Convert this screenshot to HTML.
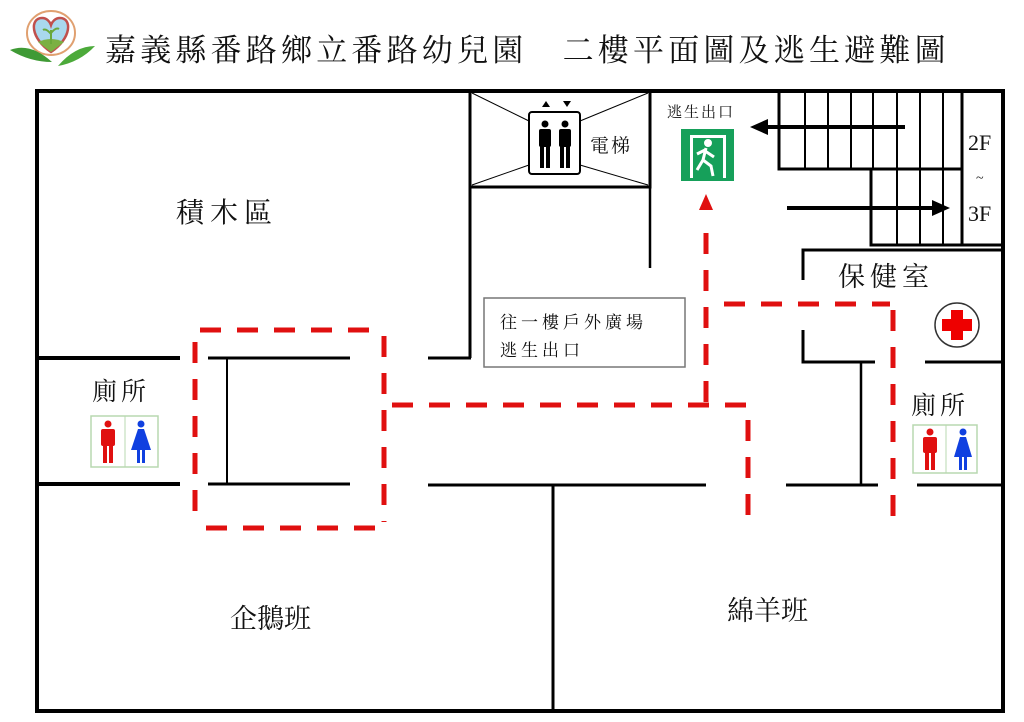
<!DOCTYPE html>
<html><head><meta charset="utf-8"><style>
html,body{margin:0;padding:0;background:#fff;width:1024px;height:722px;overflow:hidden}
svg{display:block}
text{font-family:"Liberation Serif","Noto Serif CJK SC","Noto Sans CJK TC",serif;fill:#111}
</style></head><body>
<svg width="1024" height="722" viewBox="0 0 1024 722" xmlns="http://www.w3.org/2000/svg">
<!-- logo -->
<ellipse cx="51" cy="33" rx="24" ry="22" fill="none" stroke="#e0a070" stroke-width="2"/>
<path d="M51 52 C30 38 30 18 42 18 C47 18 50 22 51 25 C52 22 55 18 60 18 C72 18 72 38 51 52Z" fill="#a9d8ee" stroke="#c0504d" stroke-width="2.5"/>
<path d="M38 42 Q51 36 64 42 L51 52Z" fill="#7bb043"/>
<path d="M51 44 L51 30 M51 34 Q46 28 43 30 M51 33 Q56 27 59 29" stroke="#6aa83a" stroke-width="2" fill="none"/>
<path d="M10 50 Q30 42 52 62 Q30 62 10 50Z" fill="#3f9a35"/>
<path d="M95 46 Q75 46 58 66 Q80 62 95 46Z" fill="#4caa3a"/>
<text x="105" y="61" font-size="31" letter-spacing="4.2">嘉義縣番路鄉立番路幼兒園　二樓平面圖及逃生避難圖</text>

<g stroke="#000" fill="none">
<rect x="37" y="91" width="966" height="620" stroke-width="4"/>
<line x1="470" y1="91" x2="470" y2="358" stroke-width="3"/>
<line x1="37" y1="358" x2="180" y2="358" stroke-width="4"/>
<line x1="208" y1="358" x2="350" y2="358" stroke-width="3"/>
<line x1="428" y1="358" x2="471" y2="358" stroke-width="3"/>
<line x1="227" y1="358" x2="227" y2="484" stroke-width="2"/>
<line x1="37" y1="484" x2="180" y2="484" stroke-width="4"/>
<line x1="208" y1="484" x2="350" y2="484" stroke-width="3"/>
<line x1="428" y1="485" x2="706" y2="485" stroke-width="3"/>
<line x1="786" y1="485" x2="878" y2="485" stroke-width="3"/>
<line x1="917" y1="485" x2="1003" y2="485" stroke-width="3"/>
<line x1="553" y1="485" x2="553" y2="711" stroke-width="3"/>
<rect x="470" y="91" width="180" height="96" stroke-width="3"/>
<line x1="650" y1="187" x2="650" y2="268" stroke-width="2.5"/>
<line x1="472" y1="93" x2="529" y2="121" stroke-width="1"/>
<line x1="648" y1="93" x2="580" y2="121" stroke-width="1"/>
<line x1="472" y1="185" x2="529" y2="165" stroke-width="1"/>
<line x1="648" y1="185" x2="580" y2="165" stroke-width="1"/>
<rect x="529" y="112" width="51" height="62" rx="3" stroke-width="2"/>
<path d="M779 91 V169 H962 M871 169 V245 H962 V91" stroke-width="3"/>
<path d="M805 91V169 M828 91V169 M851 91V169 M873 91V169 M897 91V245 M920 91V245 M943 91V245" stroke-width="2"/>
<line x1="962" y1="245" x2="1003" y2="245" stroke-width="3"/>
<path d="M803 280 V250 H1003" stroke-width="3"/>
<path d="M803 330 V362 H875 M925 362 H1003" stroke-width="3"/>
<line x1="861" y1="362" x2="861" y2="485" stroke-width="2.5"/>
</g>
<line x1="905" y1="127" x2="765" y2="127" stroke="#000" stroke-width="4"/>
<polygon points="750,127 768,119 768,135" fill="#000"/>
<line x1="787" y1="208" x2="935" y2="208" stroke="#000" stroke-width="4"/>
<polygon points="950,208 932,200 932,216" fill="#000"/>
<text x="968" y="150" font-size="22">2F</text>
<text x="976" y="182" font-size="14">~</text>
<text x="968" y="221" font-size="22">3F</text>

<polygon points="546,101 550,107 542,107" fill="#000"/>
<polygon points="563,101 571,101 567,107" fill="#000"/>
<g fill="#000">
<circle cx="545" cy="124" r="3.5"/><rect x="539" y="129" width="12" height="18" rx="2"/><rect x="540" y="146" width="4" height="22"/><rect x="546" y="146" width="4" height="22"/>
<circle cx="565" cy="124" r="3.5"/><rect x="559" y="129" width="12" height="18" rx="2"/><rect x="560" y="146" width="4" height="22"/><rect x="566" y="146" width="4" height="22"/>
</g>
<text x="590" y="152" font-size="19" letter-spacing="2">電梯</text>
<text x="667" y="117" font-size="15" letter-spacing="2">逃生出口</text>
<rect x="681" y="129" width="53" height="52" fill="#16a05a"/>
<rect x="690" y="135" width="36" height="43" fill="#fff"/>
<rect x="693" y="138" width="30" height="40" fill="#16a05a"/>
<g stroke="#fff" stroke-width="3" fill="none"><circle cx="708" cy="143" r="2.5" fill="#fff"/><path d="M706 148 L703 160 L711 166 L713 176 M703 160 L697 170 M705 151 L714 157 M705 150 L697 154"/></g>

<rect x="484" y="298" width="201" height="69" fill="#fff" stroke="#777" stroke-width="1.5"/>
<text x="500" y="328" font-size="17" letter-spacing="4">往一樓戶外廣場</text>
<text x="500" y="356" font-size="17" letter-spacing="4">逃生出口</text>

<text x="176" y="222" font-size="28" letter-spacing="6">積木區</text>
<text x="92" y="400" font-size="25" letter-spacing="4">廁所</text>
<text x="911" y="414" font-size="25" letter-spacing="4">廁所</text>
<text x="838" y="286" font-size="27" letter-spacing="5">保健室</text>
<text x="230" y="628" font-size="27">企鵝班</text>
<text x="727" y="620" font-size="27">綿羊班</text>
<circle cx="957" cy="325" r="22" fill="#fff" stroke="#333" stroke-width="1.5"/>
<path d="M951 310 h12 v9 h9 v12 h-9 v9 h-12 v-9 h-9 v-12 h9z" fill="#e00"/>
<g>
<rect x="91" y="416" width="67" height="51" fill="#fff" stroke="#b8d8b0" stroke-width="1.5"/>
<line x1="125" y1="416" x2="125" y2="467" stroke="#b8d8b0"/>
<g fill="#e01010"><circle cx="108" cy="424" r="3.5"/><rect x="101" y="429" width="14" height="17" rx="2"/><rect x="103" y="445" width="4" height="18"/><rect x="109" y="445" width="4" height="18"/></g>
<g fill="#1040e0"><circle cx="141" cy="424" r="3.5"/><polygon points="138,429 144,429 151,450 131,450"/><rect x="137" y="449" width="3" height="14"/><rect x="142" y="449" width="3" height="14"/></g>
</g>
<g>
<rect x="913" y="425" width="64" height="48" fill="#fff" stroke="#b8d8b0" stroke-width="1.5"/>
<line x1="946" y1="425" x2="946" y2="473" stroke="#b8d8b0"/>
<g fill="#e01010"><circle cx="930" cy="432" r="3.5"/><rect x="923" y="437" width="14" height="16" rx="2"/><rect x="925" y="452" width="4" height="18"/><rect x="931" y="452" width="4" height="18"/></g>
<g fill="#1040e0"><circle cx="963" cy="432" r="3.5"/><polygon points="960,437 966,437 972,457 954,457"/><rect x="959" y="456" width="3" height="14"/><rect x="964" y="456" width="3" height="14"/></g>
</g>

<g stroke="#e01010" stroke-width="5" fill="none" stroke-dasharray="21,16">
<path d="M200 330 H378"/>
<path d="M195 342 V515"/>
<path d="M206 528 H390"/>
<path d="M384 336 V522"/>
<path d="M392 405 H750"/>
<path d="M748 420 V520"/>
<path d="M706 402 V222"/>
<path d="M724 304 H890"/>
<path d="M893 310 V520"/>
</g>
<polygon points="706,194 699,210 713,210" fill="#e01010"/>
</svg>
</body></html>
